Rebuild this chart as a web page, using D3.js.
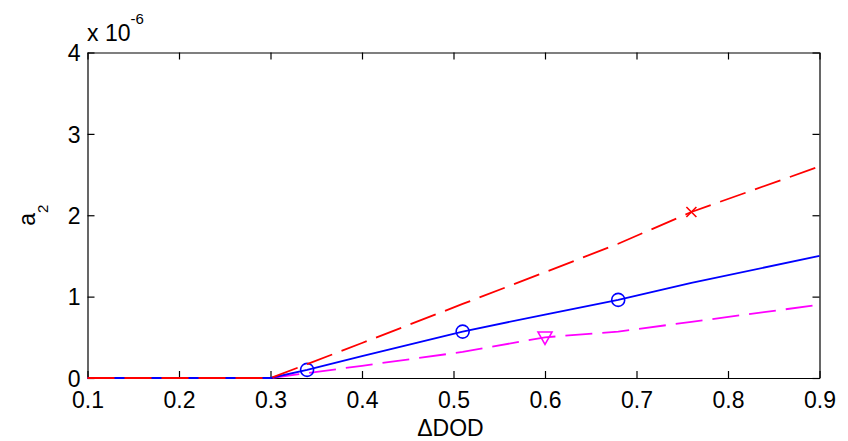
<!DOCTYPE html>
<html>
<head>
<meta charset="utf-8">
<script src="https://cdn.jsdelivr.net/npm/d3@7"></script>
<style>
  html, body { margin: 0; padding: 0; background: #fff; }
  svg { display: block; font-family: "Liberation Sans", Arial, sans-serif; }
</style>
</head>
<body>
<svg id="chart" width="848" height="441"></svg>
<script>
// ΔDOD sample points shared by all three curves
const dod = [0.1, 0.2, 0.3, 0.34, 0.4, 0.51, 0.6, 0.68, 0.76, 0.9];

// a2 values (units of 1e-6)
const seriesBlue    = [0, 0, 0, 0.10, 0.27, 0.57, 0.78, 0.96, 1.17, 1.50];
const seriesRed     = [0, 0, 0, 0.17, 0.43, 0.91, 1.30, 1.65, 2.04, 2.60];
const seriesMagenta = [0, 0, 0, 0.06, 0.15, 0.32, 0.50, 0.57, 0.69, 0.90];

// indices of the samples that carry a marker
const markBlue    = [3, 5, 7];
const markRed     = [8];
const markMagenta = [6];

const xTicks = [0.1, 0.2, 0.3, 0.4, 0.5, 0.6, 0.7, 0.8, 0.9];
const yTicks = [0, 1, 2, 3, 4];

const svg = d3.select("#chart");
const plotLeft = 87.5, plotRight = 819.5, plotTop = 52.5, plotBottom = 378;
const labelSize = 23;

const x = d3.scaleLinear().domain([0.1, 0.9]).range([plotLeft, plotRight]);
const y = d3.scaleLinear().domain([0, 4]).range([plotBottom, plotTop]);

const fmt = d3.format(".1f");

// box frame with inward ticks on all four sides
function styleAxis(g) {
  g.selectAll("path.domain").attr("stroke", "#000").attr("stroke-width", 1.2);
  g.selectAll(".tick line").attr("stroke", "#000").attr("stroke-width", 1.2);
}

const gBottom = svg.append("g").attr("transform", `translate(0,${plotBottom})`)
  .call(d3.axisBottom(x).tickValues(xTicks).tickFormat(fmt).tickSizeInner(-7).tickSizeOuter(0));
gBottom.call(styleAxis);
gBottom.selectAll("text").attr("y", 30).attr("dy", 0)
  .attr("font-size", labelSize).attr("fill", "#000").attr("font-family", "Liberation Sans, Arial, sans-serif");

const gTop = svg.append("g").attr("transform", `translate(0,${plotTop})`)
  .call(d3.axisTop(x).tickValues(xTicks).tickFormat("").tickSizeInner(-7).tickSizeOuter(0));
gTop.call(styleAxis);

const gLeft = svg.append("g").attr("transform", `translate(${plotLeft},0)`)
  .call(d3.axisLeft(y).tickValues(yTicks).tickFormat(d3.format("d")).tickSizeInner(-7).tickSizeOuter(0));
gLeft.call(styleAxis);
gLeft.selectAll("text").attr("x", -7).attr("dy", "0.36em")
  .attr("font-size", labelSize).attr("fill", "#000").attr("font-family", "Liberation Sans, Arial, sans-serif");

const gRight = svg.append("g").attr("transform", `translate(${plotRight},0)`)
  .call(d3.axisRight(y).tickValues(yTicks).tickFormat("").tickSizeInner(-7).tickSizeOuter(0));
gRight.call(styleAxis);

// curves
const line = d3.line().x((d, i) => x(dod[i])).y(d => y(d));

const curves = [
  { values: seriesMagenta, color: "#ff00ff", dash: "27,10", marks: markMagenta, marker: "tri" },
  { values: seriesBlue,    color: "#0000ff", dash: null,    marks: markBlue,    marker: "circle" },
  { values: seriesRed,     color: "#ff0000", dash: "27,10", marks: markRed,     marker: "cross" }
];

curves.forEach(c => {
  const p = svg.append("path")
    .datum(c.values)
    .attr("d", line)
    .attr("fill", "none")
    .attr("stroke", c.color)
    .attr("stroke-width", 1.8);
  if (c.dash) p.attr("stroke-dasharray", c.dash);

  const pts = c.marks.map(i => [x(dod[i]), y(c.values[i])]);
  const g = svg.append("g").attr("stroke", c.color).attr("fill", "none").attr("stroke-width", 1.6);
  pts.forEach(([px, py]) => {
    if (c.marker === "circle") {
      g.append("circle").attr("cx", px).attr("cy", py).attr("r", 6.5);
    } else if (c.marker === "cross") {
      const s = 5;
      g.append("path").attr("d", `M${px - s},${py - s}L${px + s},${py + s}M${px - s},${py + s}L${px + s},${py - s}`);
    } else if (c.marker === "tri") {
      const s = 7;
      g.append("path").attr("d", `M${px - s},${py - s * 0.75}L${px + s},${py - s * 0.75}L${px},${py + s}Z`);
    }
  });
});

// exponent label
svg.append("text")
  .attr("x", 87).attr("y", 41)
  .attr("font-size", labelSize).attr("fill", "#000")
  .text("x 10")
  .append("tspan").attr("dy", -17).attr("font-size", 15).text("-6");

// axis titles
svg.append("text")
  .attr("x", (plotLeft + plotRight) / 2 - 3).attr("y", 436)
  .attr("text-anchor", "middle")
  .attr("font-size", labelSize).attr("fill", "#000")
  .text("ΔDOD");

const yl = svg.append("text")
  .attr("transform", `translate(35,${(plotTop + plotBottom) / 2}) rotate(-90)`)
  .attr("text-anchor", "middle")
  .attr("font-size", labelSize).attr("fill", "#000");
yl.append("tspan").text("a");
yl.append("tspan").attr("dy", 13).attr("font-size", 15).text("2");
</script>
</body>
</html>
